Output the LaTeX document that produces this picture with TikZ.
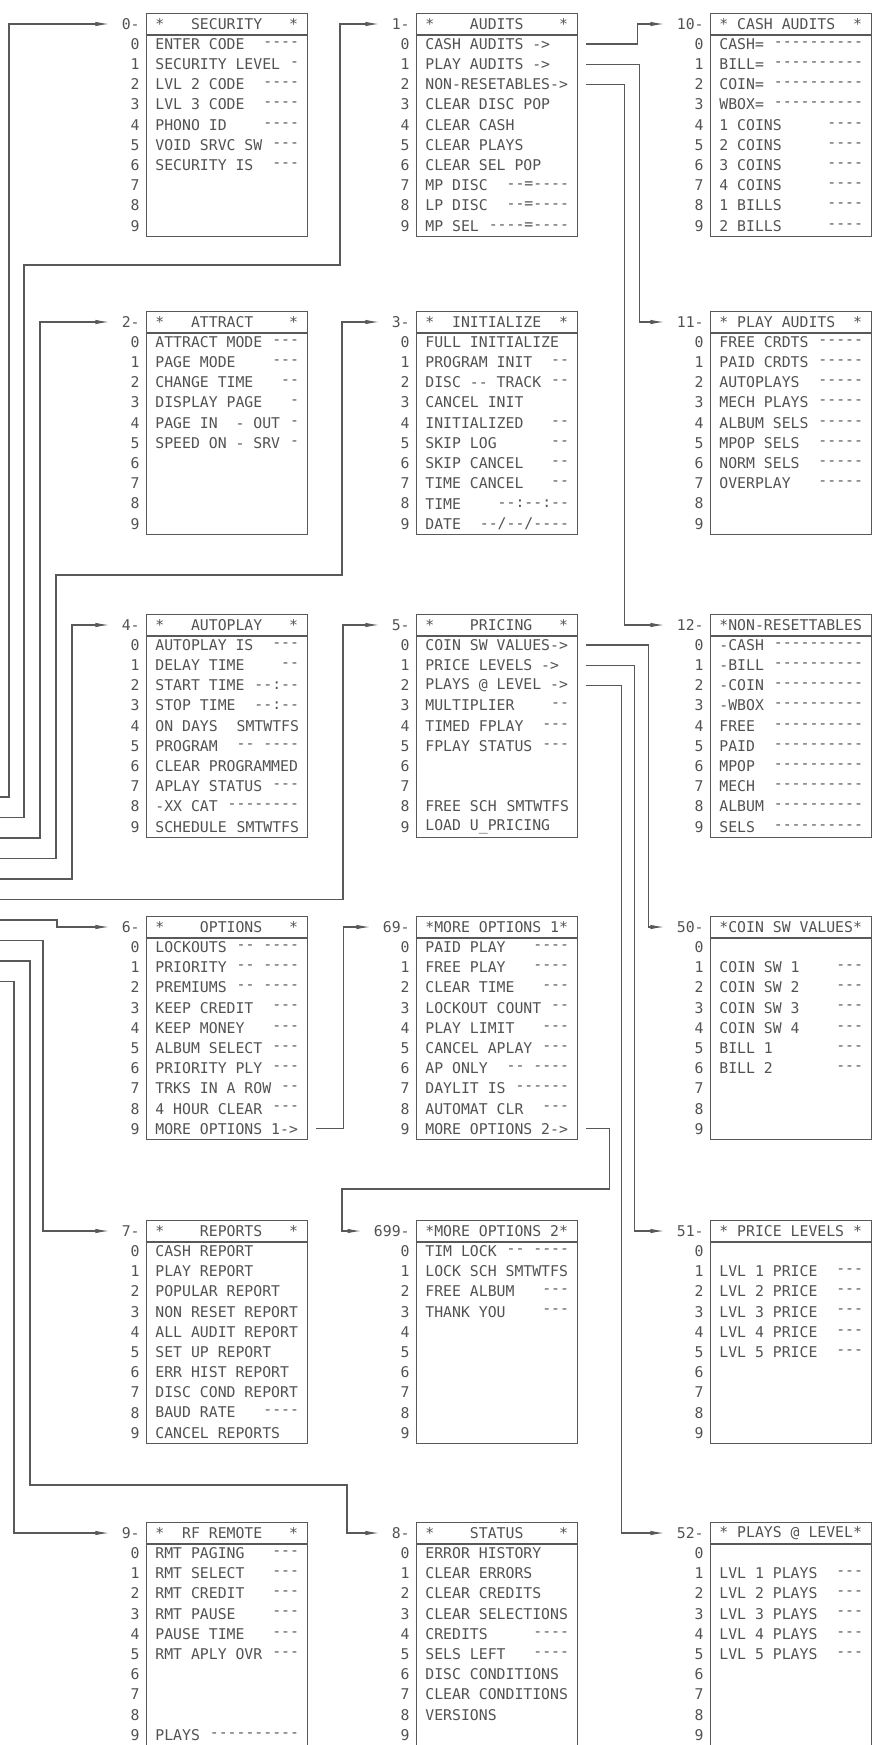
\documentclass[tikz,border=0pt]{standalone}
\usepackage{fontspec}
\setmonofont{DejaVu Sans Mono}
\usepackage{etoolbox}
\usetikzlibrary{arrows.meta}

\newcommand{\dispfont}{\ttfamily\fontsize{7.4}{8}\selectfont}
\newcommand{\menubox}[6]{%
  \node[menu] (#1) at (#2,#3) {};
  \draw[wire] ([yshift=-11pt]#1.north west) -- ([yshift=-11pt]#1.north east);
  \node[itemtext] (#1-t) at ([xshift=4.5pt,yshift=-5.5pt]#1.north west) {#5};
  \node[menutag] (#1-l) at ([xshift=-3pt,yshift=-5.5pt]#1.north west) {#4};
  \foreach \lbl/\val [count=\i from 0] in {#6} {
    \node[itemno] (#1-n\i) at ([xshift=-3pt,yshift=-15.5pt-10.1pt*\i]#1.north west) {\i};
    \coordinate (#1-o\i) at ([xshift=4pt,yshift=-15.5pt-10.1pt*\i]#1.north east);
    \ifdefempty{\lbl}{}{\node[itemtext] (#1-\i) at ([xshift=4.5pt,yshift=-15.5pt-10.1pt*\i]#1.north west) {\lbl};}
    \ifdefempty{\val}{}{\node[itemval] (#1-v\i) at ([xshift=-4.5pt,yshift=-15.5pt-10.1pt*\i]#1.north east) {\val};}
  }
}

\begin{document}
\begin{tikzpicture}[x=0.5pt,y=-0.5pt,
    wire/.style={draw=black!65, line width=0.6pt},
    wirearrow/.style={wire, -{Latex[length=7pt,width=2.2pt]}, shorten >=6pt},
    menu/.style={draw=black!65, line width=0.7pt, anchor=north west, inner sep=0pt,
      minimum width=80.5pt, minimum height=111.5pt},
    itemtext/.style={font=\dispfont, text=black!68, inner sep=0pt, anchor=west},
    itemval/.style={font=\dispfont, text=black!68, inner sep=0pt, anchor=east},
    itemno/.style={font=\dispfont, text=black!68, inner sep=0pt, anchor=east},
    menutag/.style={font=\dispfont, text=black!68, inner sep=0pt, anchor=east}]
  \useasboundingbox (0,0) rectangle (877,1745);

  \menubox{sec}{146}{13}{0-}{*~~~SECURITY~~~*}{ENTER CODE/----,SECURITY LEVEL/-,LVL 2 CODE/----,LVL 3 CODE/----,PHONO ID/----,VOID SRVC SW/---,SECURITY IS/---,/,/,/}
  \menubox{aud}{416}{13}{1-}{*~~~~AUDITS~~~~*}{CASH AUDITS ->/,PLAY AUDITS ->/,NON-RESETABLES->/,CLEAR DISC POP/,CLEAR CASH/,CLEAR PLAYS/,CLEAR SEL POP/,MP DISC/--=----,LP DISC/--=----,MP SEL/----=----}
  \menubox{cas}{710}{13}{10-}{*~CASH AUDITS~~*}{CASH=/----------,BILL=/----------,COIN=/----------,WBOX=/----------,1 COINS/----,2 COINS/----,3 COINS/----,4 COINS/----,1 BILLS/----,2 BILLS/----}

  \menubox{att}{146}{311}{2-}{*~~~ATTRACT~~~~*}{ATTRACT MODE/---,PAGE MODE/---,CHANGE TIME/--,DISPLAY PAGE/-,PAGE IN~~- OUT/-,SPEED ON - SRV/-,/,/,/,/}
  \menubox{ini}{416}{311}{3-}{*~~INITIALIZE~~*}{FULL INITIALIZE/,PROGRAM INIT/--,DISC -- TRACK/--,CANCEL INIT/,INITIALIZED/--,SKIP LOG/--,SKIP CANCEL/--,TIME CANCEL/--,TIME/--:--:--,DATE/{--/--/----}}
  \menubox{pla}{710}{311}{11-}{*~PLAY AUDITS~~*}{FREE CRDTS/-----,PAID CRDTS/-----,AUTOPLAYS/-----,MECH PLAYS/-----,ALBUM SELS/-----,MPOP SELS/-----,NORM SELS/-----,OVERPLAY/-----,/,/}

  \menubox{aut}{146}{614}{4-}{*~~~AUTOPLAY~~~*}{AUTOPLAY IS/---,DELAY TIME/--,START TIME/--:--,STOP TIME/--:--,ON DAYS/SMTWTFS,PROGRAM/-- ----,CLEAR PROGRAMMED/,APLAY STATUS/---,-XX CAT/--------,SCHEDULE/SMTWTFS}
  \menubox{pri}{416}{614}{5-}{*~~~~PRICING~~~*}{COIN SW VALUES->/,PRICE LEVELS ->/,PLAYS @ LEVEL ->/,MULTIPLIER/--,TIMED FPLAY/---,FPLAY STATUS/---,/,/,FREE SCH/SMTWTFS,LOAD U\_PRICING/}
  \menubox{non}{710}{614}{12-}{*NON-RESETTABLES}{-CASH/----------,-BILL/----------,-COIN/----------,-WBOX/----------,FREE/----------,PAID/----------,MPOP/----------,MECH/----------,ALBUM/----------,SELS/----------}

  \menubox{opt}{146}{916}{6-}{*~~~~OPTIONS~~~*}{LOCKOUTS/-- ----,PRIORITY/-- ----,PREMIUMS/-- ----,KEEP CREDIT/---,KEEP MONEY/---,ALBUM SELECT/---,PRIORITY PLY/---,TRKS IN A ROW/--,4 HOUR CLEAR/---,MORE OPTIONS 1->/}
  \menubox{mo1}{416}{916}{69-}{*MORE OPTIONS 1*}{PAID PLAY/----,FREE PLAY/----,CLEAR TIME/---,LOCKOUT COUNT/--,PLAY LIMIT/---,CANCEL APLAY/---,AP ONLY/-- ----,DAYLIT IS/------,AUTOMAT CLR/---,MORE OPTIONS 2->/}
  \menubox{coi}{710}{916}{50-}{*COIN SW VALUES*}{/,COIN SW 1/---,COIN SW 2/---,COIN SW 3/---,COIN SW 4/---,BILL 1/---,BILL 2/---,/,/,/}

  \menubox{rep}{146}{1220}{7-}{*~~~~REPORTS~~~*}{CASH REPORT/,PLAY REPORT/,POPULAR REPORT/,NON RESET REPORT/,ALL AUDIT REPORT/,SET UP REPORT/,ERR HIST REPORT/,DISC COND REPORT/,BAUD RATE/----,CANCEL REPORTS/}
  \menubox{mo2}{416}{1220}{699-}{*MORE OPTIONS 2*}{TIM LOCK/-- ----,LOCK SCH SMTWTFS/,FREE ALBUM/---,THANK YOU/---,/,/,/,/,/,/}
  \menubox{prl}{710}{1220}{51-}{*~PRICE LEVELS~*}{/,LVL 1 PRICE/---,LVL 2 PRICE/---,LVL 3 PRICE/---,LVL 4 PRICE/---,LVL 5 PRICE/---,/,/,/,/}

  \menubox{rf}{146}{1522}{9-}{*~~RF REMOTE~~~*}{RMT PAGING/---,RMT SELECT/---,RMT CREDIT/---,RMT PAUSE/---,PAUSE TIME/---,RMT APLY OVR/---,/,/,/,PLAYS/----------}
  \menubox{sta}{416}{1522}{8-}{*~~~~STATUS~~~~*}{ERROR HISTORY/,CLEAR ERRORS/,CLEAR CREDITS/,CLEAR SELECTIONS/,CREDITS/----,SELS LEFT/----,DISC CONDITIONS/,CLEAR CONDITIONS/,VERSIONS/,/}
  \menubox{pal}{710}{1522}{52-}{*~PLAYS @ LEVEL*}{/,LVL 1 PLAYS/---,LVL 2 PLAYS/---,LVL 3 PLAYS/---,LVL 4 PLAYS/---,LVL 5 PLAYS/---,/,/,/,/}

  \foreach \n [count=\k from 0] in {sec,aud,att,ini,aut,pri,opt,rep,sta,rf}
    \coordinate (in-\n) at (0,797+20.5*\k);

  \draw[wirearrow] (in-sec) -- ++(9,0) |- (sec-l);
  \draw[wirearrow] (in-aud) -- ++(24,0) |- (340,265) |- (aud-l);
  \draw[wirearrow] (in-att) -- ++(40,0) |- (att-l);
  \draw[wirearrow] (in-ini) -- ++(56,0) |- (342,575) |- (ini-l);
  \draw[wirearrow] (in-aut) -- ++(72,0) |- (aut-l);
  \draw[wirearrow] (in-pri) -- ++(343,0) |- (pri-l);
  \draw[wirearrow] (in-opt) -- ++(57,0) |- (opt-l);
  \draw[wirearrow] (in-rep) -- ++(43,0) |- (rep-l);
  \draw[wirearrow] (in-sta) -- ++(30,0) |- (347,1485) |- (sta-l);
  \draw[wirearrow] (in-rf) -- ++(14,0) |- (rf-l);

  \draw[wirearrow] (opt-o9) -- ++(27,0) |- (mo1-l);
  \draw[wirearrow] (mo1-o9) -- ++(23,0) |- (342,1189) |- (mo2-l);

  \draw[wirearrow] (aud-o0) -- ++(51,0) |- (cas-l);
  \draw[wirearrow] (aud-o1) -- ++(53,0) |- (pla-l);
  \draw[wirearrow] (aud-o2) -- ++(38,0) |- (non-l);
  \draw[wirearrow] (pri-o0) -- ++(62,0) |- (coi-l);
  \draw[wirearrow] (pri-o1) -- ++(48,0) |- (prl-l);
  \draw[wirearrow] (pri-o2) -- ++(35,0) |- (pal-l);
\end{tikzpicture}
\end{document}
